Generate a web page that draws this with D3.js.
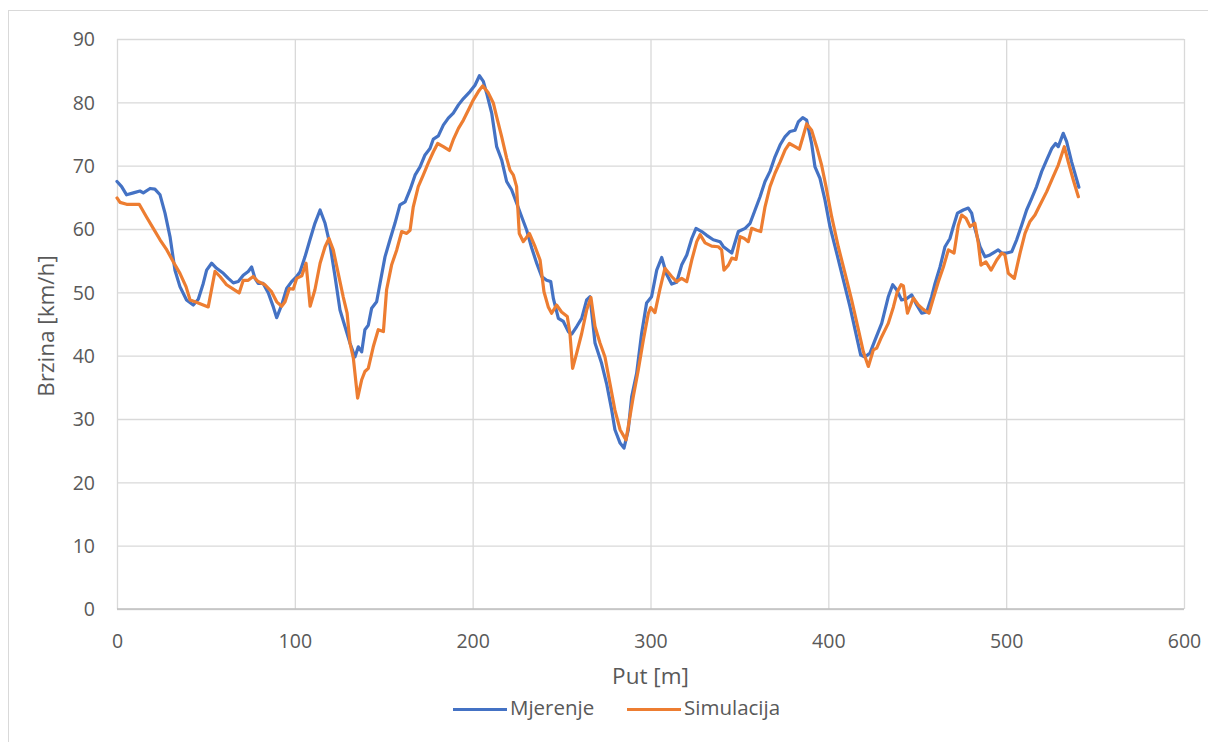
<!DOCTYPE html>
<html><head><meta charset="utf-8">
<script src="https://cdn.jsdelivr.net/npm/d3@7"></script>
<style>body{margin:0;background:#fff;}svg{display:block;font-family:"Open Sans",sans-serif;}</style>
</head><body>
<script>
const xTicks = [0,100,200,300,400,500,600];
const yTicks = [0,10,20,30,40,50,60,70,80,90];
const seriesNames = ["Mjerenje","Simulacija"];
const seriesColors = ["#4472C4","#ED7D31"];
const mjerenje = [[0,67.5],[2.6,66.7],[5.4,65.4],[9.2,65.7],[12.9,66.0],[14.8,65.7],[18.6,66.4],[21.3,66.3],[24.2,65.4],[27,62.5],[29.8,58.8],[32.6,53.5],[35.4,50.9],[39.1,48.8],[42.9,48.0],[45.7,48.9],[48.5,51.4],[50.4,53.5],[53.2,54.6],[56,53.8],[59.8,53],[62.6,52.2],[65.4,51.5],[68.2,51.7],[71,52.7],[73.8,53.3],[75.7,54.0],[77.6,52.2],[79.4,51.4],[82.2,51.4],[85.1,49.9],[87.9,47.7],[89.8,46.0],[92.6,48.0],[95.4,50.6],[98.2,51.7],[101,52.5],[102.9,53.2],[105.7,55.6],[108.5,58.3],[111.3,60.9],[114.2,63.0],[117,60.9],[119.8,57.5],[122.6,52.5],[125.4,47.2],[128.2,44.6],[131,42.0],[133.8,39.8],[135.7,41.4],[137.6,40.6],[139.4,44.1],[141.3,44.8],[143.2,47.5],[146,48.5],[147.9,51.4],[150.7,55.6],[153.5,58.3],[156.3,60.9],[159.1,63.8],[162,64.3],[164.8,66.2],[167.6,68.5],[170.4,69.8],[173.2,71.7],[176,72.7],[177.9,74.2],[180.7,74.7],[183.5,76.4],[186.3,77.5],[189.1,78.3],[192,79.6],[194.8,80.6],[198.5,81.7],[201.3,82.7],[203.8,84.2],[206,83.3],[207.9,81.4],[210.7,78.3],[213.5,73.0],[216.3,70.9],[219.1,67.5],[221.9,66.2],[224.7,64.1],[227.6,61.9],[230.4,59.8],[233.2,57.0],[236,54.6],[238.8,52.5],[241.6,51.9],[243.9,51.7],[245.4,49.0],[248.2,45.9],[251,45.4],[253.8,43.8],[255.7,43.4],[258.5,44.6],[261.3,45.9],[264.1,48.8],[266,49.3],[268.8,42.0],[272.5,38.8],[275.3,35.6],[278.2,31.4],[280,28.3],[282.9,26.2],[285.1,25.4],[287.5,28.3],[289.4,33.5],[292.2,37.2],[295,43.5],[297.8,48.3],[300.6,49.3],[303.5,53.5],[306.3,55.5],[309.1,52.8],[311.9,51.3],[314.7,51.6],[317.5,54.3],[320.4,55.9],[323.2,58.5],[325.6,60.1],[328.8,59.6],[331.6,59.0],[335.3,58.3],[339.1,58.0],[341,57.2],[345.7,56.2],[349.4,59.6],[353.2,60.1],[356,60.9],[358.8,63.0],[361.6,65.1],[364.4,67.5],[367.2,69.1],[370,71.4],[372.9,73.3],[375.7,74.6],[378.5,75.4],[381.3,75.6],[383.1,76.9],[385.6,77.6],[387.8,77.2],[390.6,73.5],[392.5,69.8],[395.3,68.0],[398.1,64.6],[400.9,60.4],[404.7,56.2],[408.4,52.0],[412.2,47.7],[415.9,43.0],[418.2,40.1],[420.6,39.8],[423.4,40.4],[426.3,42.5],[430,45.1],[433.7,49.3],[436.2,51.2],[438.4,50.4],[441.2,48.8],[444,49.0],[446.9,49.6],[449.7,48.0],[452.5,46.7],[455.3,46.9],[458.1,49.3],[460,51.4],[462.8,54.0],[465.6,57.2],[468.4,58.5],[470.3,60.4],[472.6,62.5],[475.9,63.0],[478.7,63.3],[480.6,62.5],[482.4,60.1],[485.3,57.2],[488.1,55.6],[490.9,55.9],[493.7,56.4],[495.5,56.7],[497.5,56.2],[500.3,56.2],[503.1,56.4],[505.9,58.3],[508.7,60.6],[511.5,63.0],[514.3,64.8],[517.1,66.7],[520,69.1],[522.8,70.9],[525.6,72.7],[527.8,73.5],[529.3,73.0],[532.1,75.1],[534,73.8],[536.8,70.6],[540.9,66.6]];
const simulacija = [[0,64.9],[1.7,64.2],[5.4,63.9],[12.5,63.9],[16.6,61.9],[20.4,60.1],[24.2,58.3],[28,56.7],[31.7,54.8],[35.4,53.0],[38.8,50.9],[41.1,48.8],[43.9,48.5],[51.3,47.7],[55.1,53.3],[57.9,52.5],[61.6,51.2],[65.4,50.5],[68.7,49.9],[71,51.9],[73.8,51.9],[76.6,52.5],[79.4,51.7],[83.2,51.2],[86.9,50.1],[89.8,48.5],[92.6,47.8],[94.5,48.5],[96.9,50.6],[99.1,50.5],[101,52.2],[103.9,52.6],[106.3,54.6],[108.6,47.8],[111.3,50.4],[114.2,54.6],[117,57.2],[119.2,58.5],[121.6,56.7],[124.4,53.0],[127.2,49.3],[129.4,46.7],[131,42.0],[132.9,39.6],[135.3,33.3],[137.6,36.2],[139.4,37.5],[141.3,38.0],[144.1,41.4],[146.9,44.1],[149.8,43.8],[151.6,50.4],[154.4,54.3],[157.3,56.7],[160.1,59.6],[162.9,59.3],[164.8,59.8],[166.6,63.5],[169.4,66.7],[172.2,68.5],[175,70.4],[177.9,72.2],[180.3,73.5],[183.5,73.0],[186.9,72.4],[189.1,74.1],[192,75.9],[194.8,77.2],[197.6,78.8],[200.4,80.4],[203.2,81.7],[205.6,82.6],[208.8,81.5],[211.6,79.9],[213.5,77.7],[216.3,74.6],[219.1,71.2],[221,69.3],[222.9,68.5],[224.7,66.7],[226.2,59.3],[228.5,58.0],[231.9,59.3],[235.1,57.2],[237.9,55.1],[240.1,50.1],[242.5,47.7],[244.4,46.7],[247.2,48.0],[250,46.9],[253.2,46.2],[254.7,43.5],[256.2,38.0],[258.5,40.4],[261.3,43.5],[264.1,47.2],[266.5,49.2],[268.8,44.6],[271.6,42.0],[274.4,39.8],[277.2,35.6],[280,31.4],[282.9,28.3],[286.2,26.7],[288.1,29.8],[290.3,33.5],[293.1,37.7],[296,42.5],[298.8,46.7],[300.1,47.6],[302.5,46.8],[305.3,50.5],[308.1,53.8],[311.9,52.5],[314.7,51.7],[317.5,52.2],[320.4,51.7],[323.2,55.1],[326,58.0],[327.9,59.1],[330.7,57.8],[334.4,57.3],[338.1,57.2],[340,56.7],[341.3,53.5],[343.8,54.3],[345.7,55.4],[348.1,55.2],[350.4,58.8],[352.8,58.5],[355,58.0],[356.9,60.1],[359.7,59.8],[362,59.6],[364.4,63.5],[367.2,66.7],[370,68.8],[372.9,70.6],[375.7,72.5],[378.1,73.5],[381.3,73.0],[383.7,72.6],[386,74.8],[387.8,76.6],[390.6,75.6],[393.4,73.0],[396.2,70.1],[398.7,66.7],[401.9,61.9],[405.6,57.2],[409.4,53.0],[413.1,48.8],[416.9,44.1],[419.7,40.6],[422.5,38.3],[425.3,40.9],[427.2,41.2],[430,43.0],[433.7,45.1],[436.6,47.7],[438.8,50.1],[440.9,51.2],[442.2,51.0],[444.5,46.7],[447.8,49.1],[450.6,48.0],[453.4,47.3],[456.6,46.7],[459.1,49.1],[461.9,51.7],[464.7,54.0],[467.5,56.7],[470.7,56.2],[473.1,60.6],[475,62.2],[477.4,61.7],[479.7,60.4],[482.4,60.9],[484.3,57.8],[485.8,54.3],[488.6,54.8],[491.5,53.5],[494.7,55.1],[497.5,56.2],[499.3,55.9],[501.2,53.0],[504.6,52.2],[507.8,56.2],[510.6,59.3],[513.4,61.2],[516.2,62.2],[519,63.8],[522.8,65.9],[526.5,68.3],[529.3,70.1],[532.7,73.0],[534.9,70.6],[537.8,67.7],[540.6,65.1]];
const xTitle = "Put [m]";
const yTitle = "Brzina [km/h]";

const W = 1208, H = 742;
const L = 117, R = 1184, T = 39, B = 609;
const svg = d3.select("body").append("svg").attr("width", W).attr("height", H);
const txt = "#595959";

// chart area border
svg.append("rect").attr("x", 8.5).attr("y", 10.5).attr("width", W + 10).attr("height", H + 10)
  .attr("fill", "#fff").attr("stroke", "#d9d9d9").attr("stroke-width", 1);

const x = d3.scaleLinear().domain([0, 600]).range([L, R]);
const y = d3.scaleLinear().domain([0, 90]).range([B, T]);

// horizontal gridlines
svg.append("g").attr("transform", `translate(${L},0)`)
  .call(d3.axisLeft(y).tickValues(yTicks).tickSize(-(R - L)).tickFormat(""))
  .call(g => g.select(".domain").remove())
  .call(g => g.selectAll("line").attr("stroke", "#d9d9d9").attr("stroke-width", 1.3));
// vertical gridlines
svg.append("g").attr("transform", `translate(0,${B})`)
  .call(d3.axisBottom(x).tickValues(xTicks).tickSize(-(B - T)).tickFormat(""))
  .call(g => g.select(".domain").remove())
  .call(g => g.selectAll("line").attr("stroke", "#d9d9d9").attr("stroke-width", 1.3));
// bottom axis line
svg.append("line").attr("x1", L).attr("x2", R).attr("y1", y(0)).attr("y2", y(0))
  .attr("stroke", "#bfbfbf").attr("stroke-width", 1.3);

// y tick labels
svg.append("g").attr("transform", `translate(${L - 22},0)`)
  .call(d3.axisLeft(y).tickValues(yTicks).tickSize(0).tickPadding(0))
  .call(g => g.select(".domain").remove())
  .call(g => g.selectAll("text").attr("fill", txt).attr("dy", "0.35em")
    .style("font-size", "19.5px").style("font-family", "'Open Sans', sans-serif"));
// x tick labels
svg.append("g").attr("transform", `translate(0,${B})`)
  .call(d3.axisBottom(x).tickValues(xTicks).tickSize(0).tickPadding(0))
  .call(g => g.select(".domain").remove())
  .call(g => g.selectAll("text").attr("fill", txt).attr("dy", null).attr("y", 39)
    .style("font-size", "19.5px").style("font-family", "'Open Sans', sans-serif"));

// titles
svg.append("text").attr("x", (L + R) / 2).attr("y", 684).attr("text-anchor", "middle")
  .attr("fill", txt).style("font-size", "22.5px").text(xTitle);
svg.append("text").attr("transform", `translate(54,${(T + B) / 2 + 2}) rotate(-90)`).attr("text-anchor", "middle")
  .attr("fill", txt).style("font-size", "22.5px").text(yTitle);

// lines
const line = d3.line().x(d => x(d[0])).y(d => y(d[1]));
[mjerenje, simulacija].forEach((data, i) => {
  svg.append("path").datum(data).attr("d", line).attr("fill", "none")
    .attr("stroke", seriesColors[i]).attr("stroke-width", 3.2)
    .attr("stroke-linejoin", "round").attr("stroke-linecap", "round");
});

// legend
const legendX = [453, 627];
seriesNames.forEach((n, i) => {
  const g = svg.append("g").attr("transform", `translate(${legendX[i]},709.5)`);
  g.append("line").attr("x1", 0).attr("x2", 54).attr("y1", 0).attr("y2", 0)
    .attr("stroke", seriesColors[i]).attr("stroke-width", 3.2);
  g.append("text").attr("x", 57).attr("y", 5).attr("fill", txt).style("font-size", "20.5px").text(n);
});
</script>
</body></html>
